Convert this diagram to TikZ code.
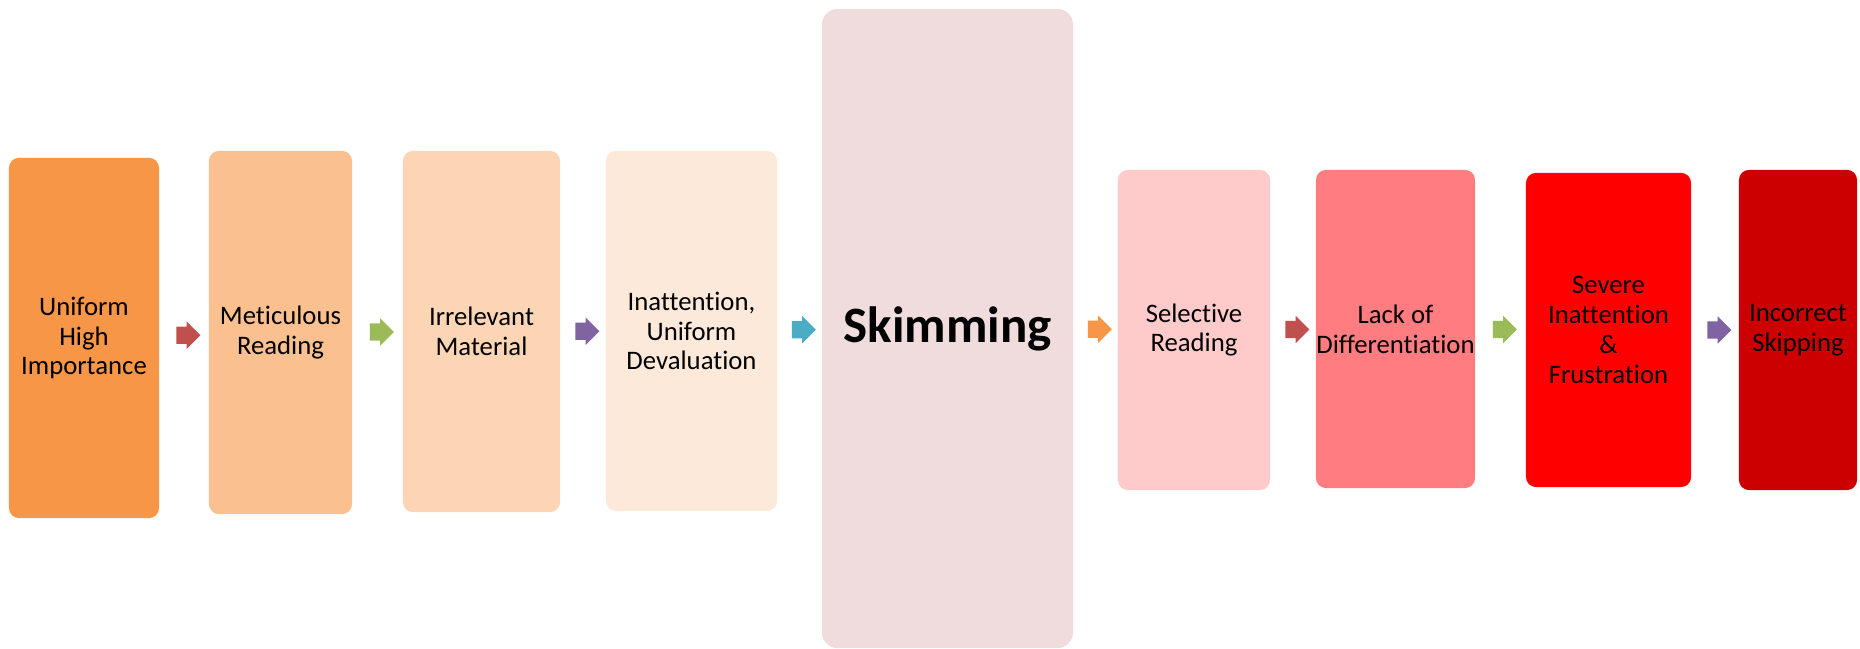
\documentclass[tikz,border=0pt]{standalone}
\usepackage{fontspec}
\setmainfont[Ligatures=NoCommon]{Carlito}
\usetikzlibrary{shapes.arrows,calc}
\definecolor{orangeA}{HTML}{F79646}
\definecolor{orangeB}{HTML}{FAC090}
\definecolor{orangeC}{HTML}{FCD5B5}
\definecolor{orangeD}{HTML}{FDE9D9}
\definecolor{skimfill}{HTML}{F0DCDC}
\definecolor{redA}{HTML}{FFCACA}
\definecolor{redB}{HTML}{FF7C80}
\definecolor{redC}{HTML}{FF0000}
\definecolor{redD}{HTML}{CC0000}
\definecolor{arrRed}{HTML}{C0504D}
\definecolor{arrGreen}{HTML}{9BBB59}
\definecolor{arrPurple}{HTML}{8064A2}
\definecolor{arrTeal}{HTML}{4BACC6}
\definecolor{arrOrange}{HTML}{F79646}

\begin{document}
\begin{tikzpicture}[x=0.01cm,y=-0.01cm]
\tikzset{stage/.style={rounded corners=0.1cm, align=center, inner sep=0pt, font=\fontsize{7.6pt}{8.5pt}\selectfont},
  flow/.style={single arrow, fill=#1, inner xsep=0pt, inner ysep=0.08cm, minimum height=0.24cm, single arrow head extend=0.05cm}}
\useasboundingbox (0,0) rectangle (1860,649);
\node[stage, fill=orangeA, minimum width=1.50cm, minimum height=3.60cm] (S1) at (84,338) {Uniform\\High\\Importance};
\node[stage, fill=orangeB, minimum width=1.43cm, minimum height=3.63cm] (S2) at (280.5,332.5) {Meticulous\\Reading};
\node[stage, fill=orangeC, minimum width=1.57cm, minimum height=3.61cm] (S3) at (481.5,331.5) {Irrelevant\\Material};
\node[stage, fill=orangeD, minimum width=1.71cm, minimum height=3.60cm] (S4) at (691.5,331) {Inattention,\\Uniform\\Devaluation};
\node[stage, fill=skimfill, rounded corners=0.16cm, minimum width=2.51cm, minimum height=6.39cm, font=\fontsize{14.5pt}{18pt}\selectfont\bfseries] (S5) at (947.5,328.5) {Skimming};
\node[stage, fill=redA, minimum width=1.52cm, minimum height=3.20cm] (S6) at (1194,330) {Selective\\Reading};
\node[stage, fill=redB, minimum width=1.59cm, minimum height=3.18cm] (S7) at (1395.5,329) {Lack of\\Differentiation};
\node[stage, fill=redC, minimum width=1.65cm, minimum height=3.14cm] (S8) at (1608.5,330) {Severe\\Inattention\\\&\\Frustration};
\node[stage, fill=redD, minimum width=1.18cm, minimum height=3.20cm] (S9) at (1798,330) {Incorrect\\Skipping};
% arrows between the stages
\node[flow=arrRed] (A1) at ($(S1.east)!0.5!(S2.west)$) {};
\node[flow=arrGreen] (A2) at ($(S2.east)!0.5!(S3.west)$) {};
\node[flow=arrPurple] (A3) at ($(S3.east)!0.5!(S4.west)$) {};
\node[flow=arrTeal] (A4) at ($(S4.east)!0.5!(S5.west)$) {};
\node[flow=arrOrange] (A5) at ($(S5.east)!0.5!(S6.west)$) {};
\node[flow=arrRed] (A6) at ($(S6.east)!0.5!(S7.west)$) {};
\node[flow=arrGreen] (A7) at ($(S7.east)!0.5!(S8.west)$) {};
\node[flow=arrPurple] (A8) at ($(S8.east)!0.5!(S9.west)$) {};
\end{tikzpicture}
\end{document}
